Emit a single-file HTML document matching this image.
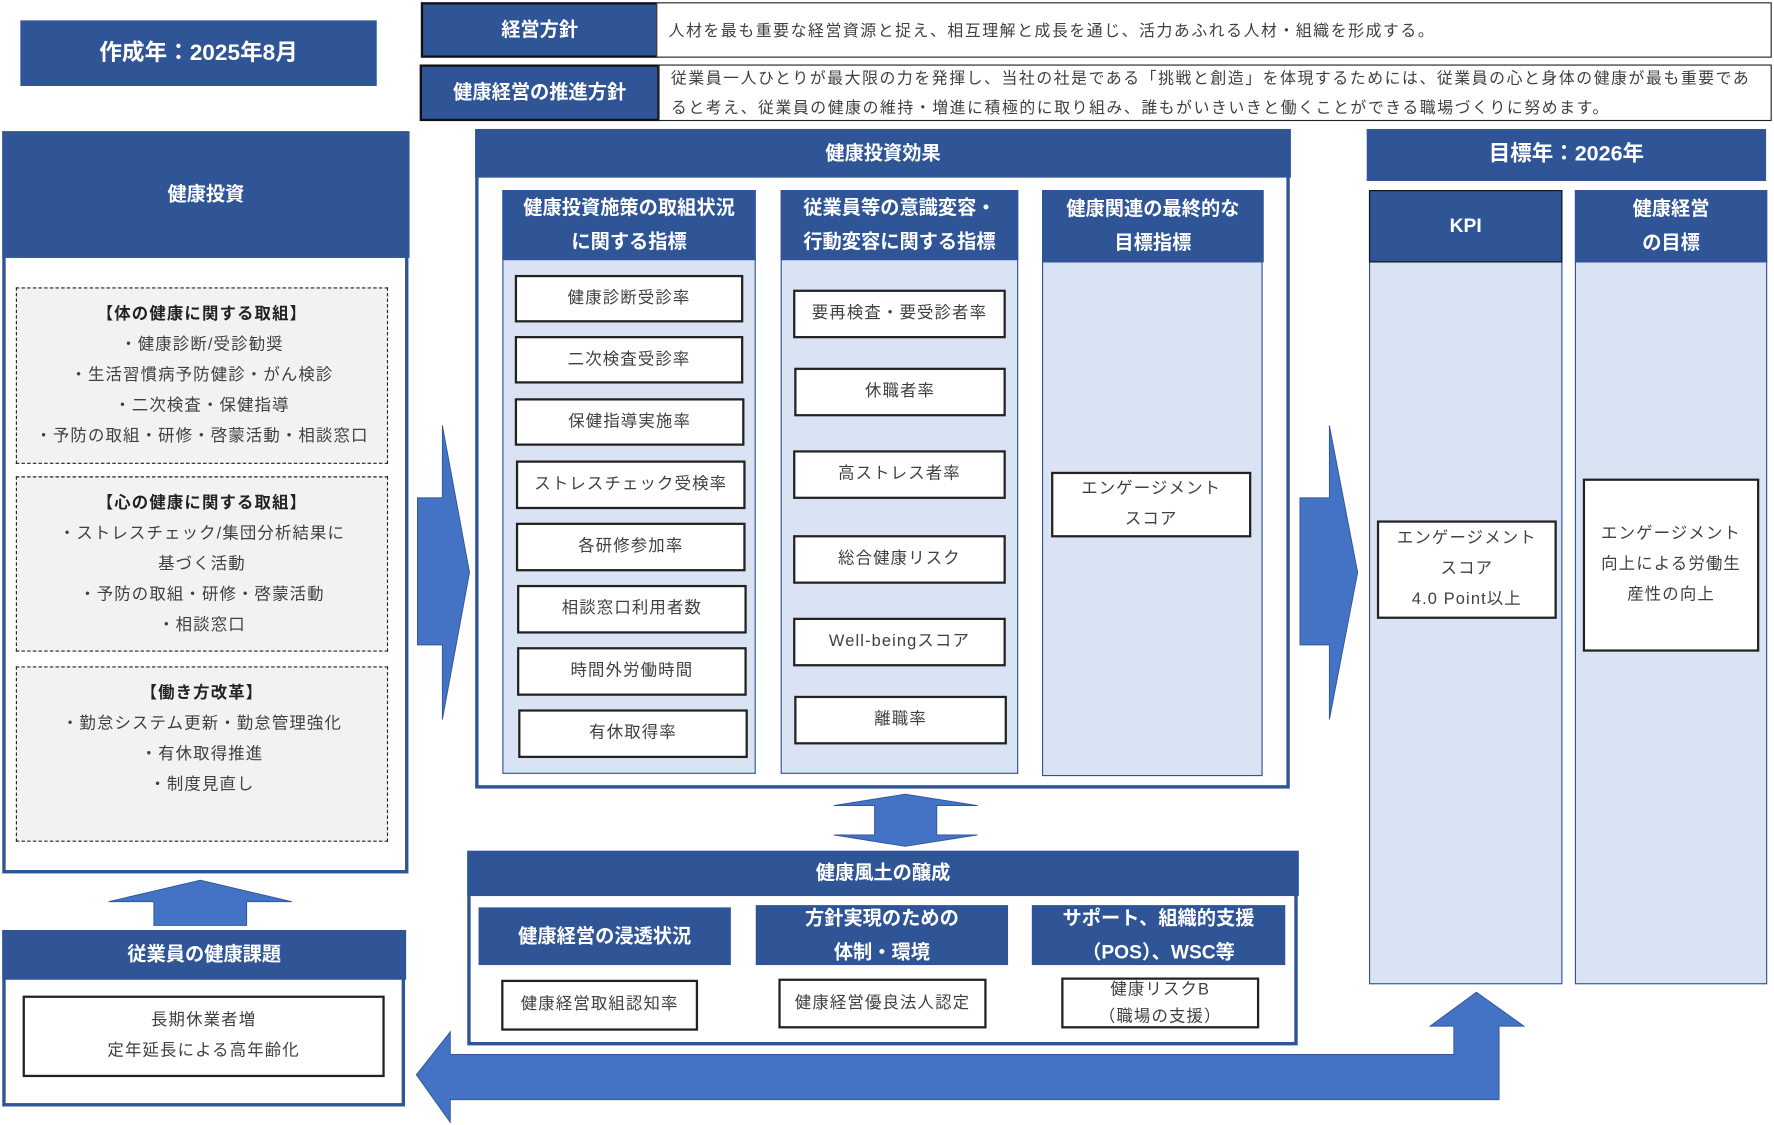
<!DOCTYPE html>
<html><head><meta charset="utf-8"><style>
html,body{margin:0;padding:0;background:#fff;width:1774px;height:1125px;overflow:hidden}
#w{position:absolute;left:0;top:0;width:1568px;height:994px;transform:scale(1.13138);transform-origin:0 0;font-family:"Liberation Sans","Noto Sans CJK JP",sans-serif}
.a{position:absolute;box-sizing:border-box}
.h{background:#2F5597;color:#fff;font-weight:bold;display:flex;align-items:center;justify-content:center;text-align:center;font-size:17px;line-height:30px}
.b{background:#fff;border:2px solid #222;display:flex;align-items:center;justify-content:center;text-align:center;font-size:14.5px;color:#404040;line-height:27px;letter-spacing:1px}
.lt{background:#DAE3F3;border:1.5px solid #2F5597}
.d{background:#F2F2F2;border:1.5px dashed #222;text-align:center;font-size:14.5px;color:#404040;line-height:27px;padding-top:10px;letter-spacing:1px}
.d b{color:#222}
.t{background:#fff;border:1.5px solid #222;font-size:14px;color:#404040;padding:0 10px;line-height:26px;display:flex;align-items:center;letter-spacing:1.4px}
</style></head><body><div id="w">
<div class="a h" style="left:18px;top:18px;width:315px;height:58px;font-size:20px">作成年：2025年8月</div>
<div class="a h" style="left:372px;top:2px;width:210px;height:49px;border:2px solid #111">経営方針</div>
<div class="a t" style="left:580px;top:2px;width:986px;height:49px">人材を最も重要な経営資源と捉え、相互理解と成長を通じ、活力あふれる人材・組織を形成する。</div>
<div class="a h" style="left:371px;top:57px;width:212px;height:50px;border:2px solid #111">健康経営の推進方針</div>
<div class="a t" style="left:582px;top:57px;width:984px;height:50px">従業員一人ひとりが最大限の力を発揮し、当社の社是である「挑戦と創造」を体現するためには、従業員の心と身体の健康が最も重要であると考え、従業員の健康の維持・増進に積極的に取り組み、誰もがいきいきと働くことができる職場づくりに努めます。</div>

<div class="a" style="left:2px;top:116px;width:359px;height:656px;border:3px solid #2F5597"></div>
<div class="a h" style="left:2px;top:116px;width:360px;height:112px">健康投資</div>
<div class="a d" style="left:14px;top:254px;width:329px;height:156px"><b>【体の健康に関する取組】</b><br>・健康診断/受診勧奨<br>・生活習慣病予防健診・がん検診<br>・二次検査・保健指導<br>・予防の取組・研修・啓蒙活動・相談窓口</div>
<div class="a d" style="left:14px;top:421px;width:329px;height:155px"><b>【心の健康に関する取組】</b><br>・ストレスチェック/集団分析結果に<br>基づく活動<br>・予防の取組・研修・啓蒙活動<br>・相談窓口</div>
<div class="a d" style="left:14px;top:589px;width:329px;height:155px"><b>【働き方改革】</b><br>・勤怠システム更新・勤怠管理強化<br>・有休取得推進<br>・制度見直し</div>

<div class="a" style="left:2px;top:822px;width:356px;height:156px;border:3px solid #2F5597"></div>
<div class="a h" style="left:2px;top:822px;width:357px;height:44px">従業員の健康課題</div>
<div class="a b" style="left:20px;top:880px;width:320px;height:72px">長期休業者増<br>定年延長による高年齢化</div>

<svg class="a" style="left:0;top:0" width="1568" height="994">
<g fill="#4472C4" stroke="#2F5597" stroke-width="0.8">
<polygon points="177,778 258,797 218,797 218,818 136,818 136,797 96,797"/>
<polygon points="369,440 391,440 391,376 415,506 391,636 391,570 369,570"/>
<polygon points="1149,440 1175,440 1175,376 1200,506 1175,636 1175,570 1149,570"/>
<polygon points="800,702 864,712 828,712 828,738 864,738 800,748 737,738 773,738 773,712 737,712"/>
<polygon points="1305,877 1347,907 1325,907 1325,972 398,972 398,992 368,950 398,912 398,932 1285,932 1285,907 1264,907"/>
</g></svg>

<div class="a" style="left:420px;top:114px;width:720px;height:583px;border:3px solid #2F5597"></div>
<div class="a h" style="left:420px;top:114px;width:721px;height:43px">健康投資効果</div>
<div class="a lt" style="left:444px;top:168px;width:224px;height:516px"></div>
<div class="a h" style="left:444px;top:168px;width:224px;height:62px">健康投資施策の取組状況<br>に関する指標</div>
<div class="a b" style="left:455px;top:243px;width:202px;height:42px">健康診断受診率</div>
<div class="a b" style="left:455px;top:297px;width:202px;height:42px">二次検査受診率</div>
<div class="a b" style="left:455px;top:352px;width:203px;height:42px">保健指導実施率</div>
<div class="a b" style="left:456px;top:407px;width:203px;height:43px">ストレスチェック受検率</div>
<div class="a b" style="left:456px;top:462px;width:203px;height:43px">各研修参加率</div>
<div class="a b" style="left:457px;top:517px;width:203px;height:43px">相談窓口利用者数</div>
<div class="a b" style="left:457px;top:572px;width:203px;height:43px">時間外労働時間</div>
<div class="a b" style="left:458px;top:627px;width:203px;height:43px">有休取得率</div>

<div class="a lt" style="left:690px;top:168px;width:210px;height:516px"></div>
<div class="a h" style="left:690px;top:168px;width:210px;height:62px">従業員等の意識変容・<br>行動変容に関する指標</div>
<div class="a b" style="left:701px;top:256px;width:188px;height:43px">要再検査・要受診者率</div>
<div class="a b" style="left:702px;top:325px;width:187px;height:43px">休職者率</div>
<div class="a b" style="left:701px;top:398px;width:188px;height:43px">高ストレス者率</div>
<div class="a b" style="left:701px;top:473px;width:188px;height:43px">総合健康リスク</div>
<div class="a b" style="left:701px;top:546px;width:188px;height:43px">Well-beingスコア</div>
<div class="a b" style="left:702px;top:615px;width:188px;height:43px">離職率</div>

<div class="a lt" style="left:921px;top:168px;width:195px;height:518px"></div>
<div class="a h" style="left:921px;top:168px;width:196px;height:64px">健康関連の最終的な<br>目標指標</div>
<div class="a b" style="left:929px;top:417px;width:177px;height:58px">エンゲージメント<br>スコア</div>

<div class="a h" style="left:1208px;top:114px;width:353px;height:46px;font-size:19px">目標年：2026年</div>
<div class="a lt" style="left:1210px;top:168px;width:171px;height:702px"></div>
<div class="a h" style="left:1210px;top:168px;width:171px;height:64px;border:1.5px solid #111">KPI</div>
<div class="a b" style="left:1217px;top:460px;width:159px;height:87px">エンゲージメント<br>スコア<br>4.0 Point以上</div>
<div class="a lt" style="left:1392px;top:168px;width:170px;height:702px"></div>
<div class="a h" style="left:1392px;top:168px;width:170px;height:64px">健康経営<br>の目標</div>
<div class="a b" style="left:1399px;top:423px;width:156px;height:153px">エンゲージメント<br>向上による労働生<br>産性の向上</div>

<div class="a" style="left:413px;top:752px;width:734px;height:172px;border:3px solid #2F5597"></div>
<div class="a h" style="left:413px;top:752px;width:735px;height:40px">健康風土の醸成</div>
<div class="a h" style="left:423px;top:802px;width:223px;height:51px">健康経営の浸透状況</div>
<div class="a h" style="left:668px;top:800px;width:223px;height:53px">方針実現のための<br>体制・環境</div>
<div class="a h" style="left:912px;top:800px;width:224px;height:53px">サポート、組織的支援<br>（POS）、WSC等</div>
<div class="a b" style="left:443px;top:866px;width:174px;height:45px">健康経営取組認知率</div>
<div class="a b" style="left:688px;top:865px;width:184px;height:44px">健康経営優良法人認定</div>
<div class="a b" style="left:938px;top:864px;width:175px;height:45px;line-height:24px">健康リスクB<br>（職場の支援）</div>
</div></body></html>
